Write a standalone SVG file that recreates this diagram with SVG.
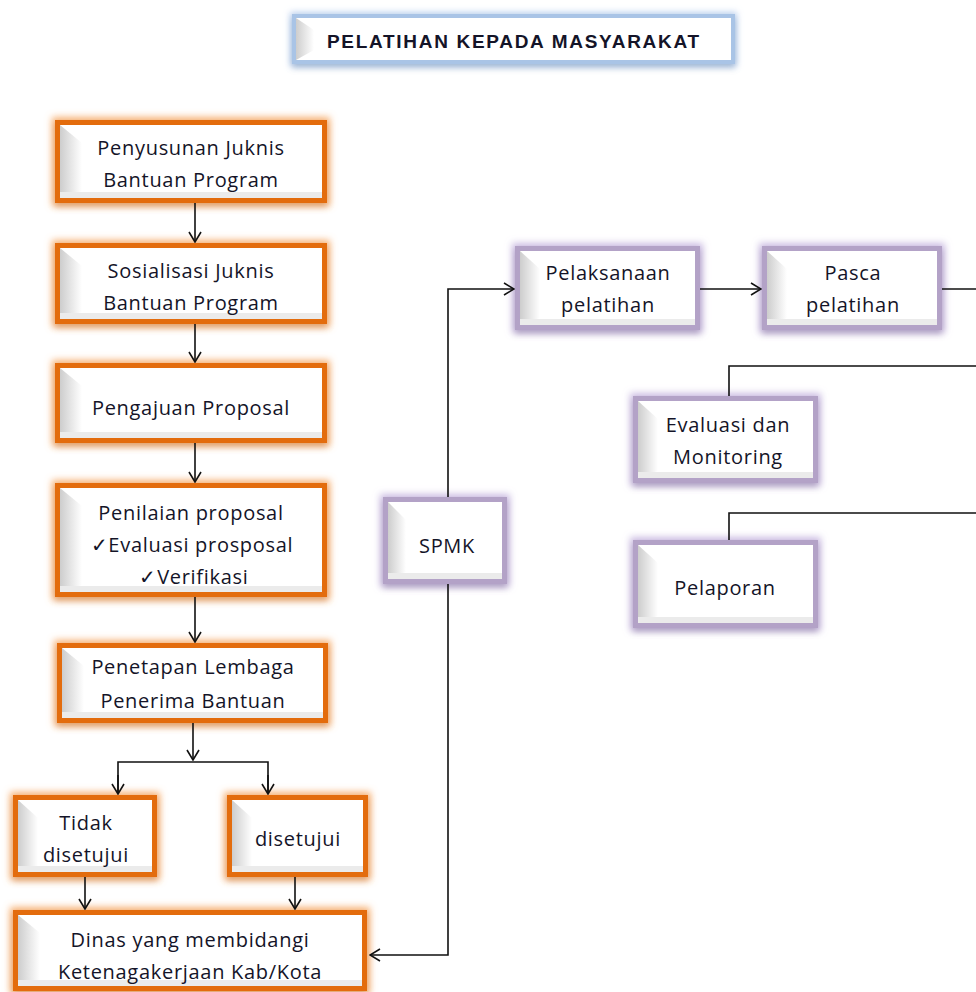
<svg xmlns="http://www.w3.org/2000/svg" width="976" height="992" viewBox="0 0 976 992">
<style>
.o{fill:#fff;stroke:#e36c0a;stroke-width:5}
.p{fill:#fff;stroke:#b3a2c7;stroke-width:5}
.t{fill:#fff;stroke:#a9c4e6;stroke-width:4}
.bev{fill:url(#bevg)}
.bb{fill:#ebebeb}
text{font-family:"Open Sans","Liberation Sans",sans-serif;font-size:20px;fill:#141428;text-anchor:middle;letter-spacing:0.7px}
.ttl{font-family:"Liberation Sans",Arial,sans-serif;font-weight:bold;font-size:19px;letter-spacing:0}
.c{fill:none;stroke:#111;stroke-width:1.6}
</style>
<defs>
<linearGradient id="bevg" x1="0" y1="0" x2="1" y2="0">
<stop offset="0" stop-color="#cdcdcd"/><stop offset="1" stop-color="#ffffff"/>
</linearGradient>
<filter id="gO" x="-20%" y="-40%" width="140%" height="180%">
<feMorphology in="SourceAlpha" operator="dilate" radius="3" result="d"/>
<feGaussianBlur in="d" stdDeviation="3.5" result="b"/>
<feFlood flood-color="#f6a560" flood-opacity="0.85"/>
<feComposite in2="b" operator="in" result="g"/>
<feOffset in="SourceAlpha" dy="4" result="o"/>
<feGaussianBlur in="o" stdDeviation="3" result="ob"/>
<feFlood flood-color="#c08050" flood-opacity="0.45"/>
<feComposite in2="ob" operator="in" result="s"/>
<feMerge><feMergeNode in="g"/><feMergeNode in="s"/><feMergeNode in="SourceGraphic"/></feMerge>
</filter>
<filter id="gP" x="-20%" y="-40%" width="140%" height="180%">
<feMorphology in="SourceAlpha" operator="dilate" radius="3" result="d"/>
<feGaussianBlur in="d" stdDeviation="3.5" result="b"/>
<feFlood flood-color="#c7b6e0" flood-opacity="0.9"/>
<feComposite in2="b" operator="in" result="g"/>
<feOffset in="SourceAlpha" dy="4" result="o"/>
<feGaussianBlur in="o" stdDeviation="3" result="ob"/>
<feFlood flood-color="#7a6a90" flood-opacity="0.45"/>
<feComposite in2="ob" operator="in" result="s"/>
<feMerge><feMergeNode in="g"/><feMergeNode in="s"/><feMergeNode in="SourceGraphic"/></feMerge>
</filter>
<filter id="gT" x="-10%" y="-40%" width="120%" height="180%">
<feMorphology in="SourceAlpha" operator="dilate" radius="2" result="d"/>
<feGaussianBlur in="d" stdDeviation="3" result="b"/>
<feFlood flood-color="#b8cfee" flood-opacity="0.9"/>
<feComposite in2="b" operator="in" result="g"/>
<feOffset in="SourceAlpha" dy="4" result="o"/>
<feGaussianBlur in="o" stdDeviation="3" result="ob"/>
<feFlood flood-color="#7090b8" flood-opacity="0.5"/>
<feComposite in2="ob" operator="in" result="s"/>
<feMerge><feMergeNode in="g"/><feMergeNode in="s"/><feMergeNode in="SourceGraphic"/></feMerge>
</filter>
<marker id="ah" viewBox="0 0 12 14" refX="11" refY="7" markerWidth="12" markerHeight="14" markerUnits="userSpaceOnUse" orient="auto">
<path d="M1,1 L11,7 L1,13" fill="none" stroke="#111" stroke-width="1.6"/>
</marker>
</defs>

<g id="title">
<rect class="t" x="294" y="16" width="439" height="46" filter="url(#gT)"/>
<polygon class="bev" points="296,18 314,30 314,50 296,60"/>
<text class="ttl" x="513" y="48" textLength="372" lengthAdjust="spacing">PELATIHAN KEPADA MASYARAKAT</text>
</g>

<g id="penyusunan">
<rect class="o" x="57.5" y="122.5" width="267" height="78" filter="url(#gO)"/>
<polygon class="bev" points="60,125 82,143 82,191 60,198"/>
<rect class="bb" x="60" y="192" width="262" height="6"/>
<text x="191" y="155">Penyusunan Juknis</text>
<text x="191" y="187">Bantuan  Program</text>
</g>
<g id="sosialisasi">
<rect class="o" x="57.5" y="245.5" width="267" height="76" filter="url(#gO)"/>
<polygon class="bev" points="60,248 82,266 82,312 60,319"/>
<rect class="bb" x="60" y="313" width="262" height="6"/>
<text x="191" y="278">Sosialisasi Juknis</text>
<text x="191" y="310">Bantuan  Program</text>
</g>
<g id="pengajuan">
<rect class="o" x="57.5" y="365.5" width="267" height="75" filter="url(#gO)"/>
<polygon class="bev" points="60,368 82,386 82,431 60,438"/>
<rect class="bb" x="60" y="432" width="262" height="6"/>
<text x="191" y="415">Pengajuan  Proposal</text>
</g>
<g id="penilaian">
<rect class="o" x="57.5" y="485.5" width="267" height="109" filter="url(#gO)"/>
<polygon class="bev" points="60,488 82,506 82,585 60,592"/>
<rect class="bb" x="60" y="586" width="262" height="6"/>
<text x="191" y="520">Penilaian proposal</text>
<text x="192" y="552">✓Evaluasi  prosposal</text>
<text x="194" y="584">✓Verifikasi</text>
</g>
<g id="penetapan">
<rect class="o" x="59.5" y="645.5" width="266" height="75" filter="url(#gO)"/>
<polygon class="bev" points="62,648 84,666 84,711 62,718"/>
<rect class="bb" x="62" y="712" width="261" height="6"/>
<text x="193" y="674">Penetapan Lembaga</text>
<text x="193" y="708">Penerima Bantuan</text>
</g>
<g id="tidak">
<rect class="o" x="15.5" y="797.5" width="139" height="77" filter="url(#gO)"/>
<polygon class="bev" points="18,800 38,818 38,866 18,872"/>
<rect class="bb" x="18" y="866" width="134" height="6"/>
<text x="86" y="830">Tidak</text>
<text x="86" y="862">disetujui</text>
</g>
<g id="disetujui">
<rect class="o" x="229.5" y="797.5" width="136" height="77" filter="url(#gO)"/>
<polygon class="bev" points="232,800 252,818 252,866 232,872"/>
<rect class="bb" x="232" y="866" width="131" height="6"/>
<text x="298" y="846">disetujui</text>
</g>
<g id="dinas">
<rect class="o" x="15.5" y="912.5" width="349" height="76" filter="url(#gO)"/>
<polygon class="bev" points="18,915 40,933 40,980 18,986"/>
<rect class="bb" x="18" y="980" width="344" height="6"/>
<text x="190" y="947">Dinas yang  membidangi</text>
<text x="190" y="979">Ketenagakerjaan Kab/Kota</text>
</g>

<g id="pelaksanaan">
<rect class="p" x="517.5" y="248.5" width="180" height="79" filter="url(#gP)"/>
<polygon class="bev" points="520,251 540,269 540,318 520,325"/>
<rect class="bb" x="520" y="319" width="175" height="6"/>
<text x="608" y="280">Pelaksanaan</text>
<text x="608" y="312">pelatihan</text>
</g>
<g id="pasca">
<rect class="p" x="764.5" y="248.5" width="175" height="79" filter="url(#gP)"/>
<polygon class="bev" points="767,251 787,269 787,318 767,325"/>
<rect class="bb" x="767" y="319" width="170" height="6"/>
<text x="853" y="280">Pasca</text>
<text x="853" y="312">pelatihan</text>
</g>
<g id="evaluasi">
<rect class="p" x="635.5" y="398.5" width="180" height="82" filter="url(#gP)"/>
<polygon class="bev" points="638,401 658,419 658,471 638,478"/>
<rect class="bb" x="638" y="472" width="175" height="6"/>
<text x="728" y="432">Evaluasi  dan</text>
<text x="728" y="464">Monitoring</text>
</g>
<g id="pelaporan">
<rect class="p" x="635.5" y="542.5" width="180" height="83" filter="url(#gP)"/>
<polygon class="bev" points="638,545 658,563 658,616 638,623"/>
<rect class="bb" x="638" y="617" width="175" height="6"/>
<text x="725" y="595">Pelaporan</text>
</g>
<g id="spmk">
<rect class="p" x="385.5" y="499.5" width="119" height="82" filter="url(#gP)"/>
<polygon class="bev" points="388,502 406,520 406,572 388,579"/>
<rect class="bb" x="388" y="573" width="114" height="6"/>
<text x="447" y="553">SPMK</text>
</g>

<g id="connectors">
<path class="c" d="M195,203 V242" marker-end="url(#ah)"/>
<path class="c" d="M195,324 V362" marker-end="url(#ah)"/>
<path class="c" d="M195,443 V482" marker-end="url(#ah)"/>
<path class="c" d="M195,597 V642" marker-end="url(#ah)"/>
<path class="c" d="M193,723 V760" marker-end="url(#ah)"/>
<path class="c" d="M118,794 V762 H268 V794"/>
<path class="c" d="M118,775 V794" marker-end="url(#ah)"/>
<path class="c" d="M268,775 V794" marker-end="url(#ah)"/>
<path class="c" d="M85,877 V909" marker-end="url(#ah)"/>
<path class="c" d="M295,877 V909" marker-end="url(#ah)"/>
<path class="c" d="M448,497 V289 H514" marker-end="url(#ah)"/>
<path class="c" d="M448,584 V955 H370" marker-end="url(#ah)"/>
<path class="c" d="M700,289 H761" marker-end="url(#ah)"/>
<path class="c" d="M942,289 H976"/>
<path class="c" d="M729,396 V366 H976"/>
<path class="c" d="M729,540 V513 H976"/>
</g>
</svg>
